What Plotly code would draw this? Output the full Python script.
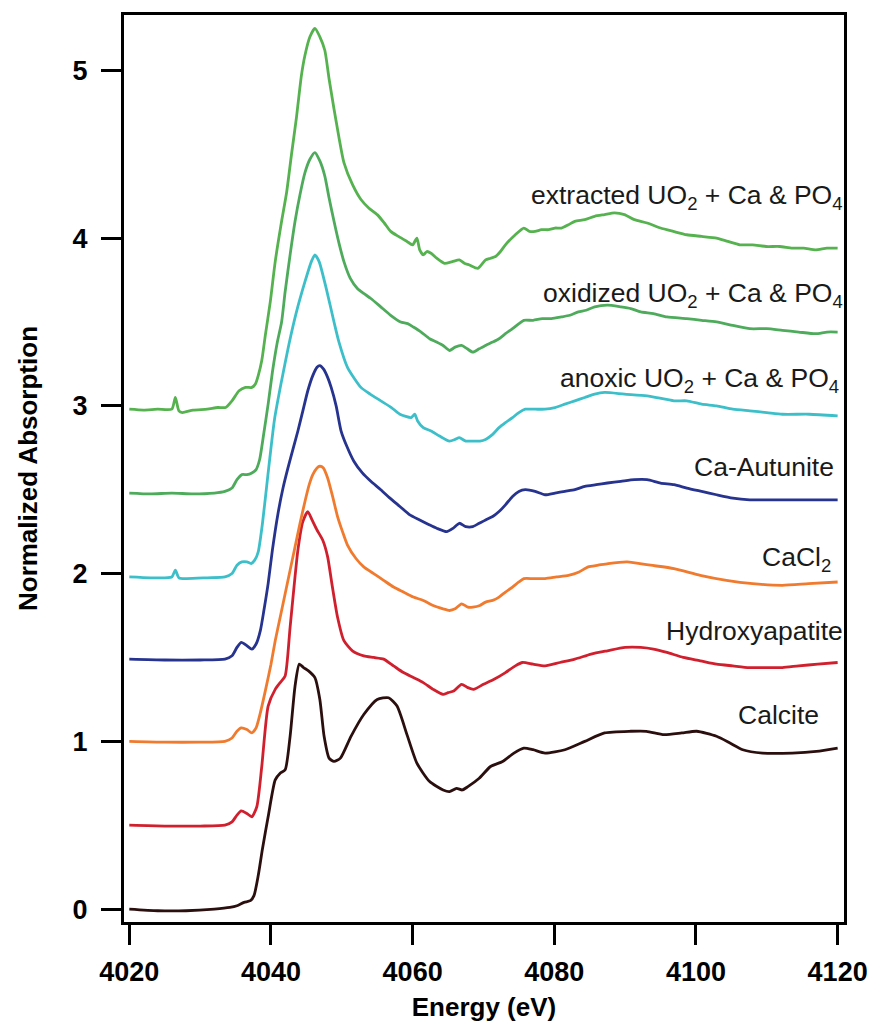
import plotly.graph_objects as go

# Energy grid (eV) and normalized absorption for each Ca K-edge XANES spectrum.
# Spectra are stacked with a vertical offset of 0.5 each.

calcite_e = [4020, 4024, 4028, 4032, 4034.2, 4035.2, 4036.2, 4037.1, 4037.6, 4038.2,
             4038.8, 4039.6, 4040.6, 4041.3, 4042.0, 4042.7, 4043.4, 4044.0, 4044.6, 4045.3,
             4046.2, 4046.9, 4047.5, 4048.2, 4048.9, 4049.8, 4051.3, 4053.1, 4055.0, 4056.6,
             4057.8, 4059.2, 4060.6, 4062.4, 4064.3, 4065.2, 4066.2, 4067.0, 4067.8, 4069.4,
             4071.0, 4072.7, 4074.3, 4075.7, 4077.0, 4078.7, 4081.5, 4084.3, 4087.1, 4090.8,
             4093.0, 4095.5, 4098.0, 4100.1, 4102.9, 4104.8, 4106.6, 4109.4, 4113.6, 4117.0,
             4120]
calcite_a = [0.0, -0.01, -0.01, 0.0, 0.01, 0.02, 0.04, 0.05, 0.08, 0.2,
             0.36, 0.55, 0.77, 0.81, 0.83, 1.03, 1.33, 1.46, 1.44, 1.42,
             1.38, 1.25, 1.03, 0.90, 0.88, 0.90, 1.03, 1.16, 1.25, 1.26,
             1.21, 1.04, 0.87, 0.76, 0.71, 0.70, 0.72, 0.71, 0.73, 0.78,
             0.85, 0.88, 0.93, 0.96, 0.95, 0.93, 0.95, 1.00, 1.05, 1.06,
             1.06, 1.04, 1.05, 1.06, 1.03, 0.99, 0.95, 0.93, 0.93, 0.94,
             0.96]

hydroxyapatite_e = [4020, 4025, 4030, 4033.5, 4034.5, 4035.2, 4035.8, 4036.6, 4037.3, 4038.0,
                    4038.7, 4039.6, 4040.6, 4041.3, 4042.0, 4042.7, 4043.8, 4044.5, 4045.2, 4045.8,
                    4046.5, 4047.3, 4048.0, 4048.6, 4049.4, 4050.3, 4051.5, 4053.1, 4054.5, 4055.9,
                    4057.3, 4058.7, 4060.1, 4061.5, 4062.9, 4064.3, 4065.0, 4065.8, 4066.9, 4067.8,
                    4068.6, 4070.0, 4071.5, 4073.1, 4074.5, 4075.5, 4077.0, 4078.7, 4080.8, 4082.9,
                    4085.2, 4087.5, 4090.0, 4092.2, 4094.0, 4095.9, 4098.2, 4100.6, 4102.9, 4105.2,
                    4107.5, 4109.9, 4112.2, 4114.5, 4117.2, 4120]
hydroxyapatite_a = [0.50, 0.495, 0.495, 0.50, 0.52, 0.56, 0.585, 0.57, 0.55, 0.61,
                    0.85, 1.21, 1.31, 1.35, 1.39, 1.68, 2.14, 2.31, 2.37, 2.32,
                    2.26, 2.20, 2.10, 1.94, 1.74, 1.60, 1.54, 1.51, 1.50, 1.49,
                    1.45, 1.41, 1.38, 1.35, 1.31, 1.28, 1.29, 1.30, 1.34, 1.32,
                    1.31, 1.34, 1.37, 1.41, 1.45, 1.47, 1.46, 1.45, 1.47, 1.49,
                    1.52, 1.54, 1.56, 1.56, 1.55, 1.53, 1.50, 1.48, 1.46, 1.45,
                    1.44, 1.44, 1.44, 1.45, 1.46, 1.47]

cacl2_e = [4020, 4025, 4030, 4033.5, 4034.5, 4035.2, 4035.8, 4036.6, 4037.3, 4037.9,
           4038.5, 4039.3, 4040.0, 4040.6, 4041.3, 4042.0, 4042.7, 4043.4, 4044.1, 4044.8,
           4045.4, 4045.9, 4046.5, 4046.9, 4047.4, 4048.0, 4048.7, 4049.4, 4050.1, 4050.8,
           4052.0, 4053.1, 4054.5, 4055.9, 4057.3, 4058.7, 4060.1, 4061.5, 4062.9, 4064.3,
           4065.2, 4066.0, 4066.9, 4067.8, 4068.5, 4069.5, 4070.3, 4071.3, 4072.2, 4073.1,
           4074.1, 4075.0, 4075.7, 4077.0, 4078.7, 4080.3, 4082.0, 4083.5, 4084.8, 4086.2,
           4087.6, 4090.3, 4093.6, 4096.9, 4100.6, 4104.3, 4108.0, 4112.2, 4115.9, 4120]
cacl2_a = [1.0, 0.995, 0.995, 1.0, 1.02, 1.06, 1.08, 1.07, 1.05, 1.08,
           1.17, 1.32, 1.46, 1.60, 1.74, 1.88, 2.02, 2.16, 2.30, 2.43,
           2.53, 2.59, 2.63, 2.64, 2.63, 2.57, 2.46, 2.34, 2.25, 2.17,
           2.09, 2.04, 2.00, 1.96, 1.92, 1.89, 1.86, 1.84, 1.81, 1.79,
           1.78, 1.79, 1.82, 1.80, 1.80, 1.81, 1.83, 1.84, 1.86, 1.89,
           1.92, 1.95, 1.97, 1.97, 1.97, 1.98, 1.99, 2.01, 2.04, 2.05,
           2.06, 2.07, 2.05, 2.03, 1.99, 1.96, 1.94, 1.93, 1.94, 1.95]

autunite_e = [4020, 4025, 4030, 4033.5, 4034.5, 4035.2, 4035.8, 4036.6, 4037.3, 4037.9,
              4038.5, 4039.0, 4039.6, 4040.2, 4041.0, 4041.7, 4042.4, 4043.1, 4043.8, 4044.5,
              4045.2, 4045.9, 4046.5, 4046.9, 4047.4, 4048.0, 4048.5, 4049.2, 4049.9, 4050.8,
              4051.7, 4052.9, 4054.1, 4055.5, 4056.8, 4058.2, 4059.6, 4061.0, 4062.4, 4063.4,
              4064.8, 4065.7, 4066.6, 4067.5, 4068.5, 4069.4, 4070.3, 4071.3, 4072.2, 4073.1,
              4074.1, 4075.0, 4075.9, 4077.3, 4078.7, 4080.1, 4081.5, 4082.9, 4084.3, 4085.9,
              4087.5, 4089.4, 4091.3, 4093.1, 4095.0, 4096.9, 4098.7, 4100.8, 4102.9, 4105.2,
              4107.6, 4110.0, 4113.0, 4116.5, 4120]
autunite_a = [1.49, 1.485, 1.485, 1.49, 1.51, 1.56, 1.59, 1.57, 1.55, 1.58,
              1.66, 1.78, 1.94, 2.14, 2.36, 2.51, 2.63, 2.74, 2.85, 2.97,
              3.09, 3.18, 3.23, 3.24, 3.22, 3.17, 3.11, 3.00, 2.85, 2.75,
              2.67, 2.60, 2.55, 2.50, 2.45, 2.40, 2.35, 2.32, 2.29, 2.27,
              2.25, 2.27, 2.30, 2.28, 2.28, 2.30, 2.32, 2.34, 2.37, 2.41,
              2.46, 2.49, 2.50, 2.49, 2.47, 2.48, 2.49, 2.50, 2.52, 2.53,
              2.54, 2.55, 2.56, 2.56, 2.54, 2.53, 2.51, 2.49, 2.47, 2.45,
              2.44, 2.44, 2.44, 2.44, 2.44]

anoxic_e = [4020, 4023, 4026.0, 4026.5, 4027.0, 4028, 4031, 4033.5, 4034.5, 4035.2,
            4035.9, 4036.6, 4037.2, 4037.7, 4038.2, 4038.8, 4039.6, 4040.5, 4041.5, 4042.5,
            4043.6, 4044.8, 4045.7, 4046.2, 4046.8, 4047.8, 4048.9, 4049.6, 4050.8, 4052.7,
            4054.0, 4055.5, 4057.0, 4058.2, 4059.8, 4060.3, 4060.7, 4061.5, 4062.6, 4063.8,
            4065.2, 4066.0, 4066.6, 4067.5, 4068.5, 4069.5, 4070.3, 4071.3, 4072.2, 4073.1,
            4074.1, 4075.0, 4075.9, 4077.3, 4078.7, 4080.1, 4081.5, 4082.9, 4084.3, 4085.7,
            4087.1, 4089.9, 4093.1, 4096.9, 4098.7, 4100.8, 4102.9, 4105.2, 4107.6, 4110.0,
            4112.2, 4116.0, 4120]
anoxic_a = [1.98, 1.975, 1.98, 2.02, 1.975, 1.97, 1.975, 1.98, 2.0, 2.05,
            2.07, 2.07, 2.06, 2.08, 2.13, 2.30, 2.60, 2.92, 3.15, 3.36,
            3.56, 3.74, 3.86, 3.90, 3.86, 3.70, 3.50, 3.38, 3.23, 3.11,
            3.07, 3.03, 2.99, 2.95, 2.93, 2.95, 2.91, 2.87, 2.85, 2.82,
            2.79, 2.80, 2.81, 2.79, 2.79, 2.79, 2.80, 2.83, 2.87, 2.90,
            2.93, 2.96, 2.98, 2.98, 2.98, 2.99, 3.01, 3.03, 3.05, 3.07,
            3.08, 3.07, 3.06, 3.03, 3.03, 3.01, 3.00, 2.98, 2.97, 2.96,
            2.95, 2.95, 2.94]

oxidized_e = [4020, 4023, 4026, 4029, 4032, 4033.5, 4034.5, 4035.2, 4035.9, 4036.6,
              4037.3, 4037.9, 4038.4, 4039.0, 4039.6, 4040.2, 4040.9, 4041.5, 4042.0, 4042.7,
              4043.4, 4044.1, 4044.8, 4045.5, 4046.2, 4046.9, 4047.6, 4048.2, 4048.9, 4049.6,
              4050.3, 4051.2, 4052.2, 4053.1, 4054.1, 4055.5, 4056.9, 4058.3, 4059.3, 4060.1,
              4061.2, 4062.4, 4063.4, 4064.3, 4065.2, 4066.0, 4066.9, 4067.7, 4068.5, 4069.4,
              4070.3, 4071.3, 4072.2, 4073.1, 4074.1, 4075.0, 4075.7, 4077.0, 4078.3, 4079.6,
              4081.0, 4082.2, 4083.4, 4084.5, 4085.7, 4087.5, 4089.4, 4090.8, 4092.2, 4094.0,
              4095.9, 4098.7, 4100.8, 4102.9, 4105.2, 4107.6, 4110.0, 4112.2, 4114.5, 4116.9,
              4118.5, 4120]
oxidized_a = [2.48, 2.475, 2.48, 2.475, 2.48, 2.49, 2.51, 2.56, 2.59, 2.59,
              2.60, 2.62, 2.68, 2.84, 3.01, 3.20, 3.38, 3.50, 3.68, 3.90,
              4.10, 4.26, 4.39, 4.47, 4.51, 4.46, 4.37, 4.24, 4.10, 3.97,
              3.86, 3.76, 3.70, 3.67, 3.64, 3.59, 3.54, 3.50, 3.49, 3.47,
              3.44, 3.40, 3.38, 3.36, 3.33, 3.35, 3.36, 3.34, 3.32, 3.34,
              3.36, 3.38, 3.40, 3.43, 3.46, 3.49, 3.51, 3.51, 3.52, 3.52,
              3.53, 3.54, 3.56, 3.57, 3.59, 3.60, 3.59, 3.58, 3.56, 3.55,
              3.53, 3.52, 3.51, 3.50, 3.48, 3.46, 3.46, 3.45, 3.44, 3.43,
              3.44, 3.44]

extracted_e = [4020, 4022, 4024, 4026.0, 4026.5, 4027.0, 4027.5, 4029, 4031, 4032.5,
               4033.6, 4034.5, 4035.5, 4036.4, 4037.3, 4037.8, 4038.2, 4038.7, 4039.2, 4039.9,
               4040.6, 4041.5, 4042.2, 4042.9, 4043.6, 4044.3, 4044.8, 4045.5, 4046.2, 4046.9,
               4047.6, 4048.2, 4048.9, 4049.6, 4050.3, 4051.5, 4052.7, 4053.8, 4055.0, 4056.0,
               4056.9, 4058.0, 4059.2, 4060.0, 4060.6, 4061.0, 4061.5, 4062.0, 4062.6, 4063.4,
               4064.5, 4065.6, 4066.6, 4067.3, 4068.0, 4069.2, 4070.3, 4071.0, 4071.7, 4072.4,
               4073.1, 4074.5, 4075.7, 4076.5, 4077.3, 4078.2, 4079.2, 4080.1, 4081.0, 4082.0,
               4082.9, 4084.3, 4085.7, 4087.1, 4088.5, 4089.9, 4091.3, 4093.1, 4095.0, 4096.8,
               4098.7, 4100.8, 4102.9, 4104.5, 4106.2, 4108.0, 4109.9, 4111.8, 4113.6, 4115.2,
               4116.9, 4118.5, 4120]
extracted_a = [2.98, 2.975, 2.98, 2.98, 3.05, 2.97, 2.96, 2.975, 2.98, 2.99,
               2.99, 3.03, 3.09, 3.11, 3.11, 3.13, 3.18, 3.27, 3.42, 3.62,
               3.86, 4.10, 4.27, 4.50, 4.72, 4.97, 5.09, 5.20, 5.25, 5.20,
               5.12, 4.95, 4.77, 4.60, 4.45, 4.32, 4.23, 4.18, 4.14, 4.09,
               4.04, 4.01, 3.98, 3.96, 4.00, 3.93, 3.90, 3.92, 3.91, 3.88,
               3.85, 3.86, 3.87, 3.85, 3.84, 3.82, 3.87, 3.88, 3.89, 3.92,
               3.96, 4.02, 4.06, 4.04, 4.04, 4.05, 4.05, 4.06, 4.06, 4.08,
               4.10, 4.11, 4.13, 4.14, 4.15, 4.14, 4.11, 4.09, 4.06, 4.04,
               4.02, 4.01, 4.00, 3.98, 3.96, 3.96, 3.95, 3.95, 3.94, 3.94,
               3.93, 3.94, 3.94]

# (name, energies, absorption, colour, label text, label anchor x, label y)
spectra = [
    ("Calcite", calcite_e, calcite_a, "#2b0f0f",
     "Calcite", 4116.8, 1.16),
    ("Hydroxyapatite", hydroxyapatite_e, hydroxyapatite_a, "#d0202e",
     "Hydroxyapatite", 4120.2, 1.655),
    ("CaCl2", cacl2_e, cacl2_a, "#f07b2e",
     "CaCl<sub>2</sub>", 4118.5, 2.09),
    ("Ca-Autunite", autunite_e, autunite_a, "#26338f",
     "Ca-Autunite", 4118.9, 2.635),
    ("anoxic", anoxic_e, anoxic_a, "#3dbfca",
     "anoxic UO<sub>2</sub> + Ca & PO<sub>4</sub>", 4119.6, 3.155),
    ("oxidized", oxidized_e, oxidized_a, "#4eab5c",
     "oxidized UO<sub>2</sub> + Ca & PO<sub>4</sub>", 4120.2, 3.66),
    ("extracted", extracted_e, extracted_a, "#55b24f",
     "extracted UO<sub>2</sub> + Ca & PO<sub>4</sub>", 4120.2, 4.245),
]

x_ticks = [4020, 4040, 4060, 4080, 4100, 4120]
y_ticks = [0, 1, 2, 3, 4, 5]

FONT = "Liberation Sans, Arial, Helvetica, sans-serif"

fig = go.Figure()
for name, e, a, color, _, _, _ in spectra:
    fig.add_trace(go.Scatter(
        x=e, y=a, mode="lines", name=name,
        line=dict(color=color, width=2.8, shape="spline", smoothing=0.6),
        showlegend=False, hoverinfo="x+y+name",
    ))

for name, e, a, color, label, lx, ly in spectra:
    fig.add_annotation(
        x=lx, y=ly, xref="x", yref="y", text=label, showarrow=False,
        xanchor="right", yanchor="middle", xshift=6,
        font=dict(family=FONT, size=26.5, color="#1a1a1a"),
    )

axis_common = dict(
    showgrid=False, zeroline=False,
    showline=True, linecolor="black", linewidth=3, mirror=True,
    ticks="outside", ticklen=20, tickwidth=3, tickcolor="black",
    tickfont=dict(family=FONT, size=27, color="black", weight="bold"),
)

fig.update_xaxes(
    range=[4019.25, 4120.9], tickvals=x_ticks,
    ticktext=[str(v) for v in x_ticks],
    title=dict(text="<b>Energy (eV)</b>", standoff=12,
               font=dict(family=FONT, size=26, color="black")),
    ticklabelstandoff=4,
    **axis_common,
)
fig.update_yaxes(
    range=[-0.077, 5.33], tickvals=y_ticks,
    ticktext=[str(v) for v in y_ticks],
    title=dict(text="<b>Normalized Absorption</b>", standoff=28,
               font=dict(family=FONT, size=26, color="black")),
    ticklabelstandoff=8,
    **axis_common,
)

fig.update_layout(
    width=880, height=1030,
    margin=dict(l=124, r=28, t=12, b=107),
    paper_bgcolor="white", plot_bgcolor="white",
)

fig.write_html("out.html")
